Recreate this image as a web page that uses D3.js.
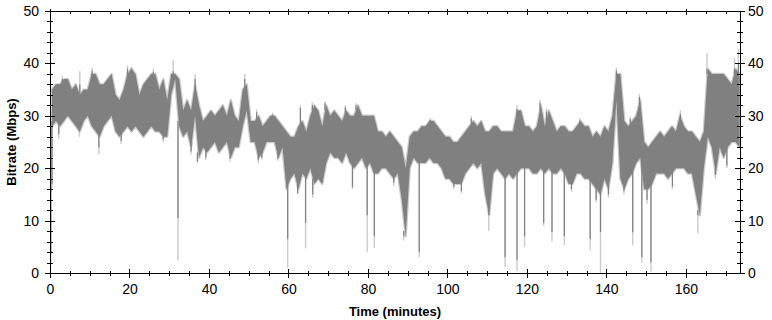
<!DOCTYPE html>
<html>
<head>
<meta charset="utf-8">
<script src="https://cdn.jsdelivr.net/npm/d3@7"></script>
<style>
body { margin: 0; background: #fff; }
text { font-family: "Liberation Sans Narrow", "Arial Narrow", "Liberation Sans", Arial, sans-serif; }
</style>
</head>
<body>
<svg id="chart" width="772" height="320"></svg>
<script>
// ***************** DATA ********************
// per minute band of the bitrate (Mbps), minute 0 .. 173
var bandHi = [
	35,36,36,37,37,35,36,34,35,35, 38,38,36,36,37,38,34,33,35,38,
	39,38,34,36,37,38,38,35,37,33, 38,38,37,31,33,31,36,32,29,30,
	31,30,31,32,30,33,30,29,35,36, 29,29,30,28,29,30,30,29,28,27,
	26,26,28,29,27,30,32,31,28,32, 30,31,30,29,31,30,30,32,30,30,
	30,30,27,27,26,27,26,25,24,20, 26,27,27,28,28,29,29,28,27,26,
	26,25,25,26,27,28,29,28,29,27, 27,28,28,27,27,27,27,31,31,28,
	28,27,28,32,28,31,29,27,28,28, 27,27,28,29,28,28,26,27,26,28,
	27,30,38,38,29,28,29,30,33,25, 24,25,26,27,26,27,28,27,30,28,
	27,27,26,25,27,39,38,38,38,38, 37,36,39,38
];
var bandLo = [
	28,29,28,29,30,29,28,27,29,30, 28,27,26,28,29,30,27,26,27,28,
	27,28,27,26,27,28,27,27,26,26, 34,37,28,26,27,24,30,22,24,23,
	24,25,23,24,25,22,24,24,28,31, 25,25,22,23,25,25,25,22,24,16,
	18,19,16,19,18,20,17,18,17,21, 23,22,22,21,23,21,20,21,22,20,
	21,19,19,20,20,19,18,19,14,7,  20,22,21,21,21,22,21,21,20,18,
	18,17,17,17,19,20,21,20,21,15, 11,19,20,19,18,19,18,19,20,20,
	20,19,19,20,19,20,19,19,20,19, 17,17,19,19,18,18,17,16,15,18,
	16,21,33,18,16,18,19,21,22,16, 16,17,19,19,19,18,19,20,20,20,
	19,19,15,11,20,26,24,19,24,22, 24,25,25,24
];
// short drops below the band: [minute, dark low, light low]
var dips = [
	[0.2,4,1.5],[0.5,17,16],[2.2,26.5,25.6],[7.4,27,26],[12.3,24,22.7],[17.9,25.2,24.6],
	[28.5,25.5,25],[32.2,10.5,2.4],[35.5,23.2,22.6],[37.1,21.3,21],[39.2,22,21.5],
	[45.3,21.8,21.3],[52.4,21.5,21],[53.3,22,21.6],[57.3,21.8,21.4],[59.8,6.5,1],
	[62.3,15.2,15],[64.3,9.5,4.7],[66.1,15,14.3],[68.5,17.2,16.8],[76.1,16.4,16],
	[79.8,11,4],[81.6,7,4.8],[86.5,17.2,16.6],[89,7,6.2],[92.9,4,3],[101.6,16.4,16],
	[103.5,15.6,15.2],[110.4,11,8],[114.5,3,1.2],[117.5,2.5,0.4],[119.4,7,5],
	[124.2,9.6,9],[126.3,7.8,6],[129.4,7,5.3],[131.2,16,15.5],[135.9,6.5,4.3],
	[137.4,14,13.5],[138.5,7.8,0],[140.5,15,14.4],[144.4,15.6,15],[146.6,7.8,5.3],
	[148.9,3,1.9],[150.2,14,13.2],[151.2,2,0.3],[156.6,16.5,16],[163,11,7.6],
	[167.4,18.7,18],[170.3,20.5,20]
];
// short rises above the band: [minute, dark high, light high]
var peaks = [
	[3.1,37,37.6],[7.5,36,38.5],[10.6,38.6,39.2],[19.5,39,39.6],[20.5,39,39.4],
	[26,38.4,39],[31,38.5,40.6],[36.5,37,38],[49,37,38],[52,30.7,31.2],[56,30.2,30.6],
	[63,31.5,32],[66,32,32.6],[69.2,32.4,32.8],[74.3,31.6,32],[77,32,32.4],
	[95.7,29.2,29.6],[106,29.5,30],[117.5,31.3,32],[123.3,32.5,33],[124.9,30.8,31.4],
	[133.3,29.1,29.6],[142.5,38.6,39.2],[146,29.4,29.8],[148.3,33.6,34.2],
	[158.6,30.4,31],[165.3,39,42],[172.2,39,41],[173.2,40,42.8]
];
var xTicks = [0,20,40,60,80,100,120,140,160];
var xMinor = [5,10,15,25,30,35,45,50,55,65,70,75,85,90,95,105,110,115,125,130,135,145,150,155,165,170];
var yTicks = [0,10,20,30,40,50];
var yMinor = [2,4,6,8,12,14,16,18,22,24,26,28,32,34,36,38,42,44,46,48];

var dark = "#808080";
var light = "#cbcbcb";

var svg = d3.select("#chart");
var margin = {top:11, right:32, bottom:47, left:50};
var width = 772, height = 320;
var xMax = 173.6;
var x = d3.scaleLinear().domain([0,xMax]).range([margin.left, width-margin.right]);
var y = d3.scaleLinear().domain([0,50]).range([height-margin.bottom, margin.top]);

var minutes = d3.range(bandHi.length);
var plot = svg.append("g");

// ************************ SERIES *************************
var area = d3.area()
	.x(function(i){ return x(Math.min(i+0.5,xMax)) })
	.y0(function(i){ return y(bandLo[i]) })
	.y1(function(i){ return y(bandHi[i]) });

var spikeLines = function(data, classed, y1, y2, color, w){
	plot.selectAll(classed)
		.data(data)
		.enter()
		.append("line")
		.attr("x1", function(d){ return x(d[0]) })
		.attr("x2", function(d){ return x(d[0]) })
		.attr("y1", y1)
		.attr("y2", y2)
		.attr("stroke", color)
		.attr("stroke-width", w);
}
var lowAt = function(t){ return bandLo[Math.min(Math.floor(t), bandLo.length-1)] }
var highAt = function(t){ return bandHi[Math.min(Math.floor(t), bandHi.length-1)] }

// light halo first
plot.append("path").attr("d", area(minutes))
	.attr("fill", light).attr("stroke", light).attr("stroke-width", 2.4)
	.attr("stroke-linejoin", "round");
spikeLines(peaks, ".peakl", function(d){ return y(d[2]) }, function(d){ return y(highAt(d[0])-1) }, light, 1.4);
spikeLines(dips, ".dipl", function(d){ return y(d[2]) }, function(d){ return y(lowAt(d[0])+1) }, light, 1.4);

// dark band on top
plot.append("path").attr("d", area(minutes)).attr("fill", dark);
spikeLines(peaks, ".peakd", function(d){ return y(d[1]) }, function(d){ return y(highAt(d[0])-1) }, dark, 1.2);
spikeLines(dips, ".dipd", function(d){ return y(d[1]) }, function(d){ return y(lowAt(d[0])+1) }, dark, 1.2);

// ************************ AXES *************************
var addAxis = function(axisFn, scale, tx, ty, values, size, labels, pad){
	var g = svg.append("g")
		.attr("transform", "translate(" + tx + "," + ty + ")")
		.call(axisFn(scale).tickValues(values).tickSizeInner(size).tickSizeOuter(0)
			.tickPadding(pad || 3).tickFormat(labels ? d3.format("d") : ""));
	g.select(".domain").remove();
	g.selectAll("line").attr("stroke", "#000").attr("shape-rendering", "crispEdges");
	g.selectAll("text").attr("fill", "#000").attr("font-size", 14)
		.attr("font-family", '"Liberation Sans Narrow","Arial Narrow","Liberation Sans",Arial,sans-serif');
	return g;
}
var yBottom = y(0), yTop = y(50), xLeft = x(0), xRight = x(xMax);

// bottom
addAxis(d3.axisBottom, x, 0, yBottom, xTicks, 5, true, 6);
addAxis(d3.axisTop, x, 0, yBottom, xTicks, 4, false);
addAxis(d3.axisBottom, x, 0, yBottom, xMinor, 3, false);
addAxis(d3.axisTop, x, 0, yBottom, xMinor, 2, false);
// top
addAxis(d3.axisTop, x, 0, yTop, xTicks, 2, false);
addAxis(d3.axisBottom, x, 0, yTop, xTicks, 4, false);
addAxis(d3.axisBottom, x, 0, yTop, xMinor, 3, false);
// left
addAxis(d3.axisLeft, y, xLeft, 0, yTicks, 5, true, 6);
addAxis(d3.axisRight, y, xLeft, 0, yTicks, 5, false);
addAxis(d3.axisLeft, y, xLeft, 0, yMinor, 3, false);
addAxis(d3.axisRight, y, xLeft, 0, yMinor, 3, false);
// right
addAxis(d3.axisRight, y, xRight, 0, yTicks, 5, true, 3);
addAxis(d3.axisLeft, y, xRight, 0, yTicks, 5, false);
addAxis(d3.axisRight, y, xRight, 0, yMinor, 3, false);
addAxis(d3.axisLeft, y, xRight, 0, yMinor, 3, false);

// frame
svg.append("rect")
	.attr("x", xLeft).attr("y", yTop)
	.attr("width", xRight-xLeft).attr("height", yBottom-yTop)
	.attr("fill", "none").attr("stroke", "#000").attr("shape-rendering", "crispEdges");

// ************************ TITLES *************************
svg.append("text")
	.attr("x", (xLeft+xRight)/2).attr("y", 316)
	.attr("text-anchor", "middle")
	.style("font-family", '"Liberation Sans", Arial, sans-serif')
	.attr("font-size", 13).attr("font-weight", "bold")
	.text("Time (minutes)");
svg.append("text")
	.attr("transform", "translate(16," + ((yTop+yBottom)/2) + ") rotate(-90)")
	.attr("text-anchor", "middle")
	.style("font-family", '"Liberation Sans", Arial, sans-serif')
	.attr("font-size", 13).attr("font-weight", "bold")
	.text("Bitrate (Mbps)");
</script>
</body>
</html>
